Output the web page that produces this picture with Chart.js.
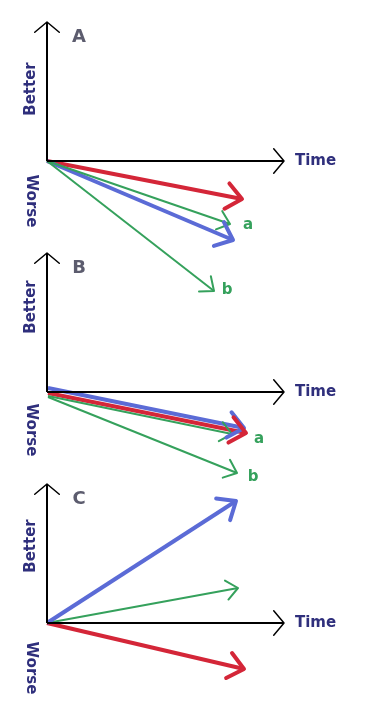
<!DOCTYPE html>
<html>
<head>
<meta charset="utf-8">
<script src="https://cdn.jsdelivr.net/npm/chart.js@4.4.1/dist/chart.umd.min.js"></script>
<style>
  body { margin: 0; background: #fff; }
  .wrap { position: relative; width: 371px; height: 727px; }
  canvas { position: absolute; left: 0; top: 0; }
</style>
</head>
<body>
<div class="wrap">
  <canvas id="panelA" width="371" height="727"></canvas>
  <canvas id="panelB" width="371" height="727"></canvas>
  <canvas id="panelC" width="371" height="727"></canvas>
</div>
<script>
// each panel: x = time from the origin, y = better (+) / worse (-)
const panelNames = ['A', 'B', 'C'];
const timeAxisEnd = 237;
const betterAxisEnd = 139;

// arrows as [start, end] points
const aRed    = [[0, 0], [195, -38]];
const aGreenA = [[0, 0], [183, -63]];
const aBlue   = [[0, 0], [186, -79]];
const aGreenB = [[0, 0], [167, -130]];

const bGreenA = [[1, -4], [185, -42]];
const bGreenB = [[1, -5], [190, -81]];
const bRed    = [[1, -1], [199, -41]];
const bBlue   = [[1, 4], [197, -36]];

const cBlue  = [[0, 0], [189, 122]];
const cGreen = [[0, 0], [191, 35]];
const cRed   = [[0, 0], [197, -46]];

const RED = '#d42638';
const BLUE = '#5b6bd6';
const GREEN = '#35a15c';
const NAVY = '#2f2f7c';
const GREY = '#5c5c6e';
const FONT = '"DejaVu Sans", Verdana, sans-serif';

const toPts = arr => arr.map(p => ({ x: p[0], y: p[1] }));

const arrow = (pts, color, width, head) => ({
  data: toPts(pts),
  borderColor: color,
  borderWidth: width,
  showLine: true,
  pointRadius: 0,
  head: head,
  clip: false
});

const axisSets = () => [
  arrow([[0, 0], [0, betterAxisEnd]], '#000', 2, { len: 16, angle: 50, width: 1.5 }),
  arrow([[0, 0], [timeAxisEnd, 0]], '#000', 2, { len: 16, angle: 50, width: 1.5 })
];

const arrowHeads = {
  id: 'arrowHeads',
  afterDatasetsDraw(chart) {
    const ctx = chart.ctx;
    chart.data.datasets.forEach((ds, i) => {
      if (!ds.head) return;
      const pts = chart.getDatasetMeta(i).data;
      const a = pts[pts.length - 2], b = pts[pts.length - 1];
      const ang = Math.atan2(b.y - a.y, b.x - a.x);
      const spread = ds.head.angle * Math.PI / 180;
      ctx.save();
      ctx.strokeStyle = ds.borderColor;
      ctx.lineWidth = ds.head.width;
      ctx.lineCap = 'round';
      ctx.lineJoin = 'round';
      ctx.beginPath();
      ctx.moveTo(b.x - ds.head.len * Math.cos(ang - spread), b.y - ds.head.len * Math.sin(ang - spread));
      ctx.lineTo(b.x, b.y);
      ctx.lineTo(b.x - ds.head.len * Math.cos(ang + spread), b.y - ds.head.len * Math.sin(ang + spread));
      ctx.stroke();
      ctx.restore();
    });
  }
};

const panelText = {
  id: 'panelText',
  afterDraw(chart, args, opts) {
    const ctx = chart.ctx;
    const xs = chart.scales.x, ys = chart.scales.y;
    (opts.items || []).forEach(t => {
      ctx.save();
      ctx.translate(xs.getPixelForValue(t.x), ys.getPixelForValue(t.y));
      ctx.rotate((t.rotate || 0) * Math.PI / 180);
      ctx.fillStyle = t.color;
      ctx.font = t.font;
      ctx.textAlign = t.align || 'center';
      ctx.textBaseline = 'middle';
      ctx.fillText(t.text, 0, 0);
      ctx.restore();
    });
  }
};

const axisText = (name, betterY, worseY) => [
  { text: name, x: 32, y: 124, color: GREY, font: 'bold 18px ' + FONT },
  { text: 'Better', x: -16, y: betterY, rotate: -90, color: NAVY, font: 'bold 15px ' + FONT },
  { text: 'Worse', x: -16, y: worseY, rotate: 90, color: NAVY, font: 'bold 15px ' + FONT },
  { text: 'Time', x: 248, y: 0, align: 'left', color: NAVY, font: 'bold 15px ' + FONT }
];

const greenLabel = (text, x, y) => ({ text: text, x: x, y: y, color: GREEN, font: 'bold 15px ' + FONT });

const thick = { len: 20, angle: 40, width: 4 };
const thin = { len: 15, angle: 40, width: 2 };

// originY: pixel row of the panel origin on the page
const makePanel = (id, originY, datasets, texts) => {
  new Chart(document.getElementById(id), {
    type: 'scatter',
    data: { datasets: axisSets().concat(datasets) },
    options: {
      responsive: false,
      animation: false,
      layout: { padding: 0 },
      scales: {
        x: { type: 'linear', min: -47, max: 324, display: false },
        y: { type: 'linear', min: originY - 727, max: originY, display: false }
      },
      plugins: {
        legend: { display: false },
        tooltip: { enabled: false },
        panelText: { items: texts }
      }
    },
    plugins: [arrowHeads, panelText]
  });
};

makePanel('panelA', 161, [
  arrow(aGreenB, GREEN, 2, thin),
  arrow(aGreenA, GREEN, 2, thin),
  arrow(aBlue, BLUE, 4, thick),
  arrow(aRed, RED, 4, thick)
], axisText(panelNames[0], 72, -40).concat([greenLabel('a', 201, -64), greenLabel('b', 180, -129)]));

makePanel('panelB', 392, [
  arrow(bGreenB, GREEN, 2, thin),
  arrow(bGreenA, GREEN, 2, thin),
  arrow(bBlue, BLUE, 4, thick),
  arrow(bRed, RED, 4, thick)
], axisText(panelNames[1], 85, -38).concat([greenLabel('a', 212, -47), greenLabel('b', 206, -85)]));

makePanel('panelC', 623, [
  arrow(cBlue, BLUE, 4, thick),
  arrow(cGreen, GREEN, 2, thin),
  arrow(cRed, RED, 4, thick)
], axisText(panelNames[2], 77, -45));
</script>
</body>
</html>
